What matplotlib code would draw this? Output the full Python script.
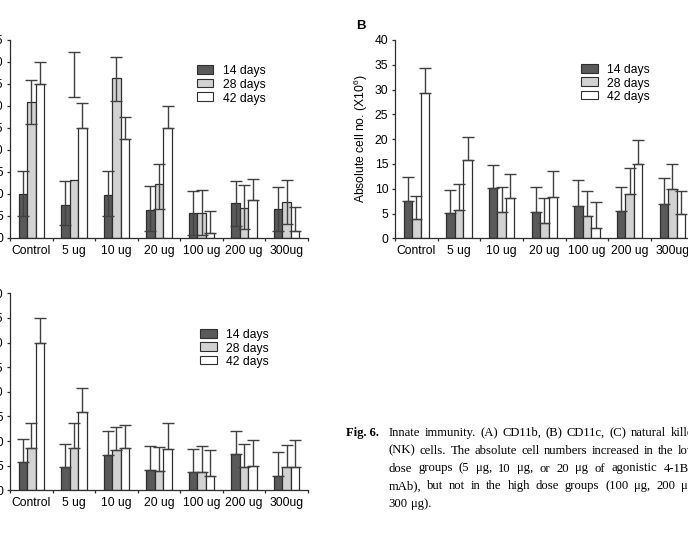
import numpy as np
import matplotlib
matplotlib.use("Agg")
import matplotlib.pyplot as plt
from matplotlib.patches import Rectangle

plt.rcParams['font.family'] = ['Liberation Sans', 'DejaVu Sans']
plt.rcParams['mathtext.fontset'] = 'custom'
plt.rcParams['mathtext.rm'] = 'Liberation Sans'
plt.rcParams['mathtext.it'] = 'Liberation Sans:italic'

categories = ['Control', '5 ug', '10 ug', '20 ug', '100 ug', '200 ug', '300ug']
series = ['14 days', '28 days', '42 days']

# Panel A (CD11b): bar values, error-bar lower/upper ends
a_14 = [10.0, 7.6, 9.7, 6.4, 5.7, 7.9, 6.6]
a_14_lo = [5.1, 3.0, 5.1, 1.7, 0.75, 2.8, 1.7]
a_14_hi = [15.3, 13.0, 15.2, 11.85, 10.6, 13.0, 11.6]
a_28 = [30.9, 13.2, 36.4, 12.2, 5.7, 6.9, 8.2]
a_28_lo = [25.9, 32.1, 31.2, 6.7, 0.6, 2.0, 3.2]
a_28_hi = [35.8, 42.2, 41.2, 16.8, 10.9, 12.0, 13.1]
a_42 = [35.0, 25.0, 22.6, 25.0, 1.1, 8.55, 1.7]
a_42_hi = [39.9, 30.6, 27.5, 30.0, 6.05, 13.3, 7.1]

# Panel B (CD11c)
b_14 = [7.6, 5.2, 10.1, 5.25, 6.6, 5.5, 7.0]
b_14_hi = [12.4, 9.8, 14.8, 10.4, 11.7, 10.4, 12.1]
b_28 = [3.8, 5.8, 5.25, 3.1, 4.5, 9.0, 10.0]
b_28_hi = [8.6, 11.0, 10.4, 8.15, 9.6, 14.1, 15.0]
b_42 = [29.4, 15.7, 8.15, 8.35, 2.1, 14.9, 5.0]
b_42_hi = [34.3, 20.5, 13.0, 13.5, 7.3, 19.9, 9.6]

# Panel C (NK cells)
c_14 = [5.75, 4.7, 7.2, 4.05, 3.65, 7.4, 3.0]
c_14_hi = [10.4, 9.5, 12.1, 9.0, 8.3, 12.1, 7.85]
c_28 = [8.6, 8.5, 8.25, 3.85, 3.65, 4.7, 4.75]
c_28_hi = [13.7, 13.7, 12.9, 8.7, 8.9, 9.4, 9.2]
c_42 = [29.9, 15.8, 8.5, 8.45, 2.85, 4.9, 4.75]
c_42_hi = [35.0, 20.8, 13.3, 13.7, 8.1, 10.15, 10.15]

W, H = 688, 535
fig = plt.figure(figsize=(W / 100, H / 100), dpi=100)
fig.patch.set_facecolor('white')

colors = ['#5a5a5a', '#d2d2d2', '#ffffff']
edge = '#2e2e2e'
errc = '#404040'
FS = 8.7


def px_axes(left, top, right, bottom):
    return fig.add_axes([left / W, 1 - bottom / H, (right - left) / W, (bottom - top) / H])


def draw_panel(ax, vals, lows, highs, ymax):
    n = len(categories)
    x = np.arange(n) + 0.5
    bw = 0.2
    for i, (v, lo, hi) in enumerate(zip(vals, lows, highs)):
        xi = x + (i - 1) * bw
        ax.bar(xi, v, width=bw, color=colors[i], edgecolor=edge, linewidth=0.9, zorder=2)
        v = np.asarray(v, float)
        hi = np.asarray(hi, float)
        if lo is None:
            ax.errorbar(xi, v, yerr=[np.zeros(n), hi - v], fmt='none', ecolor=errc,
                        elinewidth=1.0, capsize=4.3, capthick=1.0, zorder=3)
        else:
            lo = np.asarray(lo, float)
            ax.errorbar(xi, (lo + hi) / 2, yerr=(hi - lo) / 2, fmt='none', ecolor=errc,
                        elinewidth=1.0, capsize=4.3, capthick=1.0, zorder=3)
    ax.set_xlim(0, n)
    ax.set_ylim(0, ymax)
    ax.set_yticks(np.arange(0, ymax + 0.1, 5))
    ax.set_yticklabels([f'{int(t)}' for t in np.arange(0, ymax + 0.1, 5)], fontsize=FS)
    ax.set_xticks(np.arange(n + 1))
    ax.set_xticklabels([])
    ax.set_xticks(x, minor=True)
    ax.set_xticklabels(categories, minor=True, fontsize=FS)
    ax.tick_params(axis='x', which='major', length=2.2, width=0.9, color=edge, direction='out')
    ax.tick_params(axis='x', which='minor', length=0, pad=5)
    ax.tick_params(axis='y', length=2.4, width=0.9, color=edge, pad=2.4, direction='out')
    for s in ['top', 'right']:
        ax.spines[s].set_visible(False)
    for s in ['left', 'bottom']:
        ax.spines[s].set_color(edge)
        ax.spines[s].set_linewidth(0.9)
    ax.set_facecolor('none')


def legend_px(x0, tops, tx):
    for i, t in enumerate(tops):
        r = Rectangle((x0 / W, 1 - (t + 8.7) / H), 16.7 / W, 8.7 / H, transform=fig.transFigure,
                      facecolor=colors[i], edgecolor=edge, linewidth=0.8)
        fig.add_artist(r)
        fig.text(tx / W, 1 - (t + 9.3) / H, series[i], fontsize=FS, va='baseline', ha='left')


axA = px_axes(10, 40, 308, 238)
draw_panel(axA, [a_14, a_28, a_42], [a_14_lo, a_28_lo, None], [a_14_hi, a_28_hi, a_42_hi], 45)
legend_px(196.7, [65, 78.7, 92.3], 222.7)

axB = px_axes(395, 40, 693.7, 238.3)
draw_panel(axB, [b_14, b_28, b_42], [None, None, None], [b_14_hi, b_28_hi, b_42_hi], 40)
legend_px(581, [64, 77.3, 90.7], 607.3)
fig.text(360.7 / W, 1 - 139 / H, 'Absolute cell no. (X10$^{6}$)', rotation=90,
         ha='center', va='center', fontsize=FS)
fig.text(356.5 / W, 1 - 29 / H, 'B', fontsize=9.5, fontweight='bold', ha='left', va='baseline')

axC = px_axes(10, 293.3, 308, 490.3)
draw_panel(axC, [c_14, c_28, c_42], [None, None, None], [c_14_hi, c_28_hi, c_42_hi], 40)
legend_px(200.3, [329, 342.3, 355.7], 226)

# Caption (justified lines)
cap_kw = dict(fontsize=9.1, family=['Liberation Serif', 'DejaVu Serif'])
renderer = fig.canvas.get_renderer()


def justify(line, x0, x1, yb, last=False):
    words = line.split(' ')
    texts = [fig.text(0, 0, w, va='baseline', ha='left', **cap_kw) for w in words]
    widths = [t.get_window_extent(renderer).width for t in texts]
    sp = fig.text(0, 0, 'a a', **cap_kw)
    sp2 = fig.text(0, 0, 'aa', **cap_kw)
    natural_space = sp.get_window_extent(renderer).width - sp2.get_window_extent(renderer).width
    sp.remove(); sp2.remove()
    if last or len(words) < 2:
        gap = natural_space
    else:
        gap = (x1 - x0 - sum(widths)) / (len(words) - 1)
    x = x0
    for t, w in zip(texts, widths):
        t.set_position((x / W, 1 - yb / H))
        x += w + gap


fig.text(346 / W, 1 - 436 / H, 'Fig. 6.', fontweight='bold', va='baseline', ha='left', **cap_kw)
cap_lines = [
    'Innate immunity. (A) CD11b, (B) CD11c, (C) natural killer',
    '(NK) cells. The absolute cell numbers increased in the low',
    'dose groups (5 \u03bcg, 10 \u03bcg, or 20 \u03bcg of agonistic 4-1BB',
    'mAb), but not in the high dose groups (100 \u03bcg, 200 \u03bcg,',
    '300 \u03bcg).',
]
baselines = [436, 453.75, 471.5, 489.25, 507]
for k, (ln, yb) in enumerate(zip(cap_lines, baselines)):
    justify(ln, 388.5, 697, yb, last=(k == len(cap_lines) - 1))

fig.savefig('out.png', dpi=100)
